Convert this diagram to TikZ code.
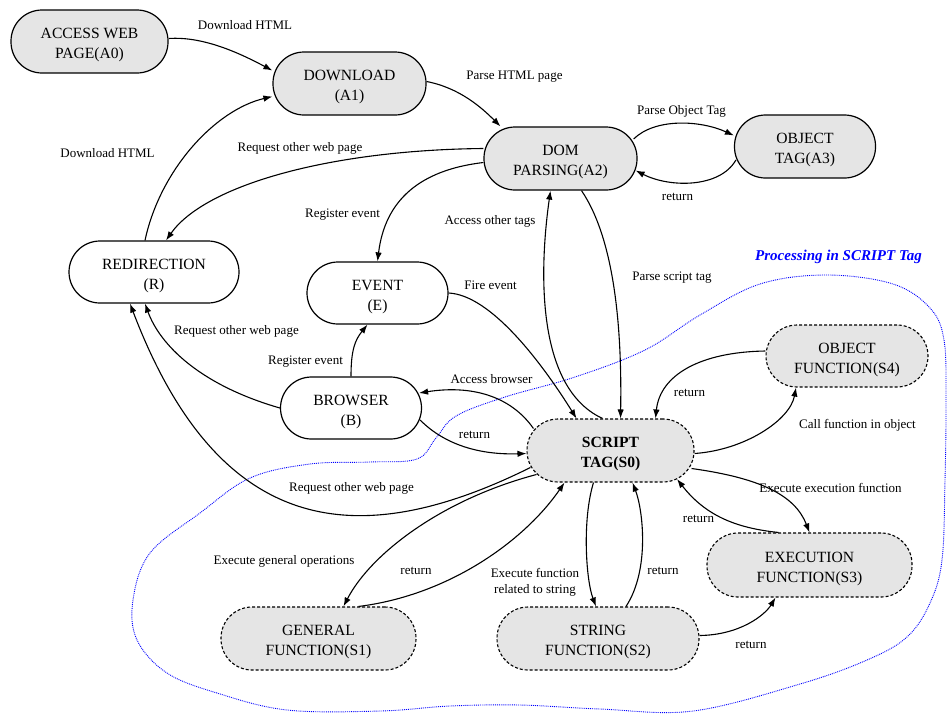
\documentclass[tikz,border=0pt]{standalone}
\usepackage{fontspec}
\setmainfont{Liberation Serif}
\usetikzlibrary{arrows.meta,calc}
\newcommand\topstrut{\rule{0pt}{18pt}}
\begin{document}
\begin{tikzpicture}[x=1pt,y=-1pt,
  state/.style={draw, line width=1.2pt, rounded corners=31pt, minimum height=63pt, inner sep=0pt, align=center, font=\fontsize{15.6}{20}\selectfont},
  grayfill/.style={fill=black!10},
  dashedbox/.style={dash pattern=on 3pt off 2pt, line width=1.1pt},
  arr/.style={line width=1.1pt, -{Latex[length=9pt,width=6.5pt]}},
  lbl/.style={font=\fontsize{13}{16}\selectfont, inner sep=0pt, align=center},
]
\useasboundingbox (0,0) rectangle (949,713);

% region
\draw[blue, line width=0.9pt, dash pattern=on 0.9pt off 1pt]
  plot[smooth cycle, tension=0.6] coordinates {
  (287,710) (217,693) (167,673) (137,640) (133,600) (150,553) (200,513) (250,478) (310,464)
  (370,462) (417,459) (436,438) (456,416) (505,397) (575,377) (645,350) (700,315) (760,284)
  (827,275) (893,284) (930,308) (944,340) (946,400) (945,480) (942,560) (930,603) (907,637)
  (867,660) (800,684) (693,711) (600,709) (520,705) (450,706) (380,711)};
\node[lbl, text=blue, font=\fontsize{15}{18}\selectfont\bfseries\itshape] (proc) at (838.5,257) {Processing in SCRIPT Tag};

% nodes
\node[state,grayfill,minimum width=157pt] (A0) at (89.5,41.5) {\topstrut ACCESS WEB\\PAGE(A0)};
\node[state,grayfill,minimum width=153pt] (A1) at (349.5,83.5) {\topstrut DOWNLOAD\\(A1)};
\node[state,grayfill,minimum width=153pt] (A2) at (560.5,158.5) {\topstrut DOM\\PARSING(A2)};
\node[state,grayfill,minimum width=141pt] (A3) at (805,146.5) {\topstrut OBJECT\\TAG(A3)};
\node[state,minimum width=170pt,minimum height=62pt] (R) at (154,272) {\topstrut REDIRECTION\\(R)};
\node[state,minimum width=141pt,minimum height=62pt] (E) at (377.5,293) {\topstrut EVENT\\(E)};
\node[state,minimum width=141pt,minimum height=62pt] (B) at (351,408) {\topstrut BROWSER\\(B)};
\node[state,grayfill,dashedbox,minimum width=167pt] (S0) at (610.5,450.5) {\topstrut\textbf{SCRIPT}\\\textbf{TAG(S0)}};
\node[state,grayfill,dashedbox,minimum width=162pt,minimum height=62pt] (S4) at (847,356) {\topstrut OBJECT\\FUNCTION(S4)};
\node[state,grayfill,dashedbox,minimum width=205pt,minimum height=64pt] (S3) at (809.5,565) {\topstrut EXECUTION\\FUNCTION(S3)};
\node[state,grayfill,dashedbox,minimum width=195pt] (S1) at (318.5,638.5) {\topstrut GENERAL\\FUNCTION(S1)};
\node[state,grayfill,dashedbox,minimum width=202pt] (S2) at (598,638.5) {\topstrut STRING\\FUNCTION(S2)};

% edges
\draw[arr] ($(A0.east)+(0,-3)$) .. controls (205,36) and (243,55) .. ($(A1.west)+(0,-13)$);
\draw[arr] ($(R.north)+(-9,0)$) .. controls (160,170) and (215,110) .. ($(A1.west)+(0,13)$);
\draw[arr] ($(A1.east)+(0,-2)$) .. controls (460,88) and (482,108) .. ($(A2.north)+(-60,0)$);
\draw[arr] ($(A2.west)+(0,-10)$) .. controls (330,150) and (205,185) .. ($(R.north)+(12,0)$);
\draw[arr] ($(A2.west)+(0,4)$) .. controls (420,170) and (385,200) .. (E.north);
\draw[arr] ($(A2.east)+(-4,-19.5)$) .. controls (655,118) and (700,120) .. ($(A3.west)+(0,-11)$);
\draw[arr] ($(A3.west)+(2,13.5)$) .. controls (720,188) and (670,188) .. ($(A2.east)+(-2,12)$);
\draw[arr] ($(S0.north)+(-8,0)$) .. controls (530,385) and (542,250) .. ($(A2.south)+(-10,0)$);
\draw[arr] ($(A2.south)+(21,0)$) .. controls (615,240) and (622,330) .. ($(S0.north)+(10,0)$);
\draw[arr] (E.east) .. controls (490,295) and (540,360) .. ($(S0.north)+(-34,0)$);
\draw[arr] (B.north) .. controls (351,350) and (355,340) .. ($(E.south)+(-10,0)$);
\draw[arr] (B.west) .. controls (200,385) and (160,345) .. ($(R.south)+(-9,0)$);
\draw[arr] ($(S0.west)+(4,17)$) .. controls (360,552) and (220,540) .. ($(R.south)+(-24,0)$);
\draw[arr] ($(S0.west)+(7,-22)$) .. controls (510,395) and (470,385) .. ($(B.east)+(-3,-15)$);
\draw[arr] ($(B.east)+(-2,12)$) .. controls (445,445) and (480,455) .. ($(S0.west)+(0,3)$);
\draw[arr] ($(S0.east)+(0,3)$) .. controls (745,450) and (790,420) .. ($(S4.south)+(-51,0)$);
\draw[arr] ($(S4.west)+(0,-5)$) .. controls (700,352) and (660,375) .. ($(S0.north)+(45,0)$);
\draw[arr] ($(S0.east)+(-3,18)$) .. controls (760,478) and (795,495) .. (S3.north);
\draw[arr] ($(S3.north)+(-31,0)$) .. controls (735,528) and (705,515) .. ($(S0.south)+(66.5,-3.5)$);
\draw[arr] ($(S0.west)+(10,24)$) .. controls (440,500) and (370,555) .. ($(S1.north)+(25,0)$);
\draw[arr] ($(S1.north)+(40,0)$) .. controls (450,595) and (525,540) .. ($(S0.south)+(-46,0)$);
\draw[arr] ($(S0.south)+(-17,0)$) .. controls (582,520) and (586,580) .. ($(S2.north)+(-2,0)$);
\draw[arr] ($(S2.north)+(28,0)$) .. controls (650,570) and (643,510) .. ($(S0.south)+(22,0)$);
\draw[arr] ($(S2.east)+(0,-3)$) .. controls (740,635) and (765,615) .. ($(S3.south)+(-34,0)$);

% labels
\node[lbl] (l1) at (245,25) {Download HTML};
\node[lbl] (l2) at (107.5,153) {Download HTML};
\node[lbl] (l3) at (514.5,77) {Parse HTML page};
\node[lbl] (l4) at (300,148) {Request other web page};
\node[lbl] (l5) at (342.5,215) {Register event};
\node[lbl] (l6) at (681.5,111) {Parse Object Tag};
\node[lbl] (l7) at (677.5,197) {return};
\node[lbl] (l8) at (490,221) {Access other tags};
\node[lbl] (l9) at (672,278) {Parse script tag};
\node[lbl] (l10) at (490.5,285) {Fire event};
\node[lbl] (l11) at (305.5,362) {Register event};
\node[lbl] (l12) at (236.5,331) {Request other web page};
\node[lbl] (l13) at (351.5,488) {Request other web page};
\node[lbl] (l14) at (491.5,379) {Access browser};
\node[lbl] (l15) at (474.5,435) {return};
\node[lbl] (l16) at (689.5,393) {return};
\node[lbl] (l17) at (857.5,425) {Call function in object};
\node[lbl] (l18) at (830.5,488) {Execute execution function};
\node[lbl] (l19) at (698.5,519) {return};
\node[lbl] (l20) at (284,561) {Execute general operations};
\node[lbl] (l21) at (416,571) {return};
\node[lbl] (l22) at (535,582) {Execute function\\related to string};
\node[lbl] (l23) at (663,571) {return};
\node[lbl] (l24) at (751,645) {return};
\end{tikzpicture}
\end{document}
